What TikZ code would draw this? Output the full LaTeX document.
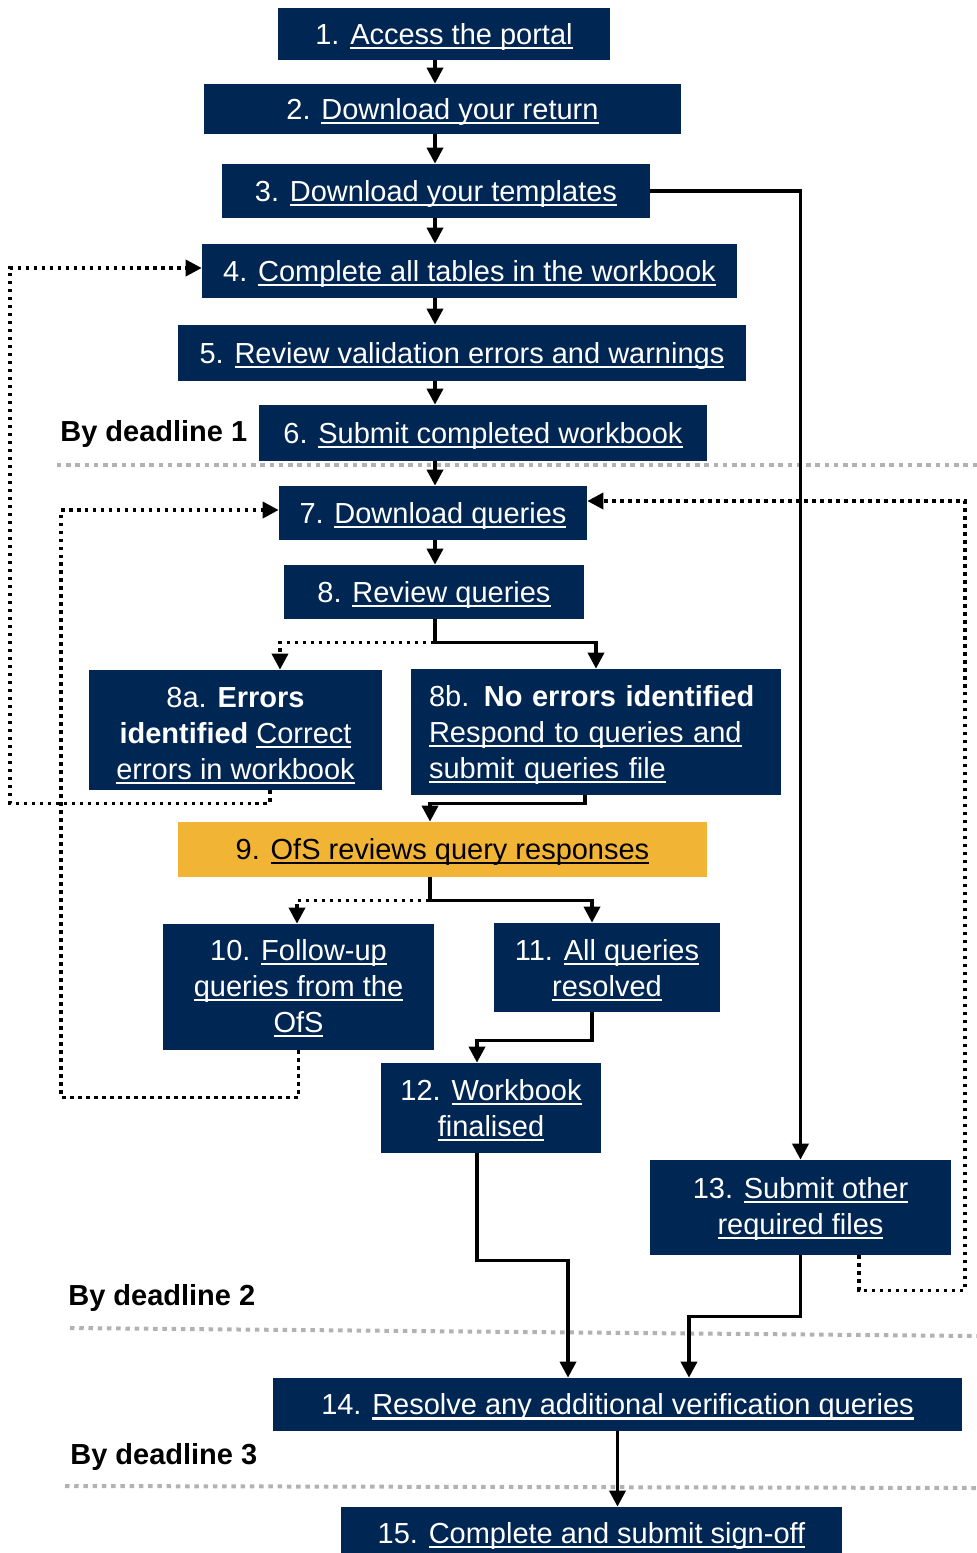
\documentclass[tikz,border=0pt]{standalone}
\usepackage{fontspec}
\setmainfont{Liberation Sans}
\usetikzlibrary{arrows.meta}
\definecolor{navy}{HTML}{002654}
\definecolor{ofsgold}{HTML}{F1B434}
\newcommand{\lnk}[1]{\leavevmode\setbox0=\hbox{#1}\rlap{\rule[-2.6pt]{\wd0}{1.2pt}}\box0}
\newcommand{\hgt}[1][0.93]{\rule{0pt}{#1em}}

\begin{document}
\begin{tikzpicture}[x=0.02cm, y=-0.02cm,
	font=\fontsize{16.5}{20.5}\selectfont,
	box/.style={fill=navy, text=white, inner sep=0pt, align=center},
	link/.style={line width=0.072cm, -{Triangle[length=0.32cm,width=0.32cm]}},
	back/.style={link, dash pattern=on 0.07cm off 0.09cm},
	sep/.style={line width=0.08cm, color=black!30, dash pattern=on 0.09cm off 0.095cm},
	ddl/.style={font=\fontsize{16.5}{20.5}\selectfont\bfseries, anchor=west, inner sep=0pt}]
			
			\useasboundingbox (0,0) rectangle (977,1553);
			
			\draw[sep] (57,465) -- (977,465);
			\draw[sep] (70,1328) -- (977,1336);
			\draw[sep] (65,1486) -- (977,1488);
			
			\node[box, minimum width=6.64cm, minimum height=1.04cm] (b1) at (444,34) {\hgt 1. \lnk{Access the portal}};
			\node[box, minimum width=9.54cm, minimum height=1cm] (b2) at (442.5,109) {\hgt 2. \lnk{Download your return}};
			\node[box, minimum width=8.56cm, minimum height=1.08cm] (b3) at (436,191) {\hgt 3. \lnk{Download your templates}};
			\node[box, minimum width=10.7cm, minimum height=1.08cm] (b4) at (469.5,271) {\hgt 4. \lnk{Complete all tables in the workbook}};
			\node[box, minimum width=11.36cm, minimum height=1.12cm] (b5) at (462,353) {\hgt 5. \lnk{Review validation errors and warnings}};
			\node[box, minimum width=8.96cm, minimum height=1.12cm] (b6) at (483,433) {\hgt 6. \lnk{Submit completed workbook}};
			\node[box, minimum width=6.16cm, minimum height=1.08cm] (b7) at (433,513) {\hgt 7. \lnk{Download queries}};
			\node[box, minimum width=6cm, minimum height=1.08cm] (b8) at (434,592) {\hgt 8. \lnk{Review queries}};
			\node[box, minimum width=5.86cm, minimum height=2.4cm] (b8a) at (235.5,730) {\hgt[1.07]8a. \textbf{Errors}\\\textbf{identified} \lnk{Correct}\\\lnk{errors in workbook}};
			\node[box, align=left, text width=6.68cm, inner xsep=0.36cm, minimum height=2.52cm] (b8b) at (596,732) {\hgt 8b. \textbf{No errors identified}\\\lnk{Respond to queries and}\\\lnk{submit queries file}};
			\node[box, fill=ofsgold, text=black, minimum width=10.58cm, minimum height=1.1cm] (b9) at (442.5,849.5) {\hgt[0.87]9. \lnk{OfS reviews query responses}};
			\node[box, minimum width=5.42cm, minimum height=2.52cm] (b10) at (298.5,987) {\hgt[0.8]10. \lnk{Follow-up}\\\lnk{queries from the}\\\lnk{OfS}};
			\node[box, minimum width=4.52cm, minimum height=1.78cm] (b11) at (607,967.5) {\hgt 11. \lnk{All queries}\\\lnk{resolved}};
			\node[box, minimum width=4.4cm, minimum height=1.8cm] (b12) at (491,1108) {\hgt[0.87]12. \lnk{Workbook}\\\lnk{finalised}};
			\node[box, minimum width=6.02cm, minimum height=1.9cm] (b13) at (800.5,1207.5) {\hgt[0.8]13. \lnk{Submit other}\\\lnk{required files}};
			\node[box, minimum width=13.78cm, minimum height=1.06cm] (b14) at (617.5,1404.5) {\hgt 14. \lnk{Resolve any additional verification queries}};
			\node[box, minimum width=10.02cm, minimum height=1.04cm] (b15) at (591.5,1533) {\hgt 15. \lnk{Complete and submit sign-off}};
			
			\node[ddl] (d1) at (60,434) {By deadline 1};
			\node[ddl] (d2) at (68,1298) {By deadline 2};
			\node[ddl] (d3) at (70,1457) {By deadline 3};
			
			\coordinate (spine) at (435,0);
			\coordinate (in4) at ([yshift=0.06cm]b4.west);
			\coordinate (in7l) at ([yshift=0.06cm]b7.west);
			\coordinate (in7r) at ([yshift=0.24cm]b7.east);
			
			\draw[link] (b1.south -| spine) -- (b2.north -| spine);
			\draw[link] (b2.south -| spine) -- (b3.north -| spine);
			\draw[link] (b3.south -| spine) -- (b4.north -| spine);
			\draw[link] (b4.south -| spine) -- (b5.north -| spine);
			\draw[link] (b5.south -| spine) -- (b6.north -| spine);
			\draw[link] (b6.south -| spine) -- (b7.north -| spine);
			\draw[link] (b7.south -| spine) -- (b8.north -| spine);
			
			\draw[link] (b3.east) -| (b13.north);
			
			\draw[link] (b8.south -| spine) -- ++(0,23) -| (b8b.north);
			\draw[back] (b8.south -| spine) -- ++(0,23) -| ([xshift=0.89cm]b8a.north);
			\draw[back] ([xshift=0.69cm]b8a.south) -- ++(0,13) -| (10,0 |- in4) -- (in4);
			
			\draw[link] ([xshift=-0.22cm]b8b.south) -- ++(0,8) -| ([xshift=-0.25cm]b9.north);
			
			\draw[link] ([xshift=-0.25cm]b9.south) -- ++(0,23) -| ([xshift=-0.3cm]b11.north);
			\draw[back] ([xshift=-0.25cm]b9.south) -- ++(0,23) -| ([xshift=-0.03cm]b10.north);
			\draw[back] (b10.south) -- ++(0,47) -| (61,0 |- in7l) -- (in7l);
			
			\draw[link] ([xshift=-0.3cm]b11.south) -- ++(0,28) -| ([xshift=-0.28cm]b12.north);
			\draw[link] ([xshift=-0.28cm]b12.south) -- ++(0,107) -| ([xshift=-0.99cm]b14.north);
			\draw[link] (b13.south) -- ++(0,61) -| ([xshift=1.43cm]b14.north);
			\draw[back] ([xshift=1.17cm]b13.south) -- ++(0,35) -| (965,0 |- in7r) -- (in7r);
			
			\draw[link] (b14.south) -- (b14.south |- b15.north);
			
\end{tikzpicture}
\end{document}
